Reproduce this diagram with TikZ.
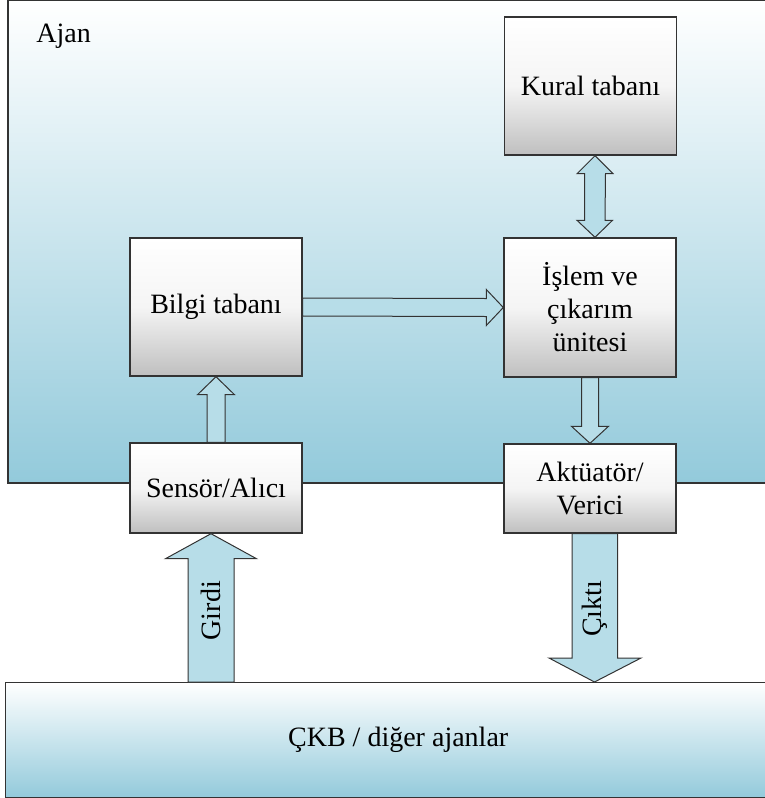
\documentclass[tikz,border=0pt]{standalone}
\usepackage{fontspec}
\setmainfont{Liberation Serif}
\usetikzlibrary{calc}

\definecolor{agentblue}{HTML}{93CADB}
\definecolor{arrowblue}{HTML}{B7DDE8}
\definecolor{edgegray}{HTML}{333333}

\tikzset{
  unit/.style={draw=edgegray, line width=0.7pt, top color=white, bottom color=black!25,
    middle color=black!4, minimum width=86pt, align=center, inner sep=2pt,
    font=\fontsize{14}{16.5}\selectfont},
  blockarrow/.style={draw=edgegray, line width=0.5pt, fill=arrowblue, line join=miter},
  arrowtext/.style={rotate=90, font=\fontsize{14}{16.5}\selectfont}
}

\begin{document}
\begin{tikzpicture}[x=0.5pt, y=-0.5pt]
  \clip (0,0) rectangle (765,798);
  % agent and environment
  \draw[draw=edgegray, line width=0.7pt, top color=white, bottom color=agentblue]
    (8,0.5) rectangle (790,483);
  \node[anchor=base west, inner sep=0pt, font=\fontsize{14}{16.5}\selectfont] (ajan) at (36,42) {Ajan};
  \node[draw=edgegray, line width=0.7pt, top color=white, bottom color=agentblue,
    minimum width=392.5pt, minimum height=57.5pt, anchor=north west,
    font=\fontsize{14}{16.5}\selectfont] (ckb) at (5,682) {ÇKB / diğer ajanlar};

  % units
  \node[unit, minimum height=69pt] (kural) at (590.5,86) {Kural tabanı};
  \node[unit, minimum height=69pt] (bilgi) at (216,307) {Bilgi tabanı};
  \node[unit, minimum height=69.5pt] (islem) at (590,307.5) {İşlem ve\\çıkarım\\ünitesi};
  \node[unit, minimum height=45pt] (sens) at (216,488) {Sensör/Alıcı};
  \node[unit, minimum height=44.5pt] (akt) at (590,488.5) {Aktüatör/\\Verici};

  % block arrows
  \draw[blockarrow] ($(kural.south)+(4.5,0)$) -- ++(18,18) -- ++(-7.5,0)
    -- ($(islem.north)+(15,-17)$) -- ++(7.5,0) -- ($(islem.north)+(5,0)$)
    -- ++(-18,-17) -- ++(7.5,0) -- ($(kural.south)+(-6,18)$) -- ++(-7.5,0) -- cycle;
  \draw[blockarrow] ($(bilgi.east)+(0,-9)$) -- ($(islem.west)+(-17,-9)$) -- ++(0,-9)
    -- (islem.west) -- ++(-17,18) -- ++(0,-9) -- ($(bilgi.east)+(0,9)$) -- cycle;
  \draw[blockarrow] ($(islem.south)+(-8.5,0)$) -- ($(akt.north)+(-8.5,-17)$) -- ++(-10,0)
    -- (akt.north) -- ++(18.5,-17) -- ++(-10,0) -- ($(islem.south)+(8.5,0)$) -- cycle;
  \draw[blockarrow] ($(sens.north)+(-9,0)$) -- ($(bilgi.south)+(-9,18)$) -- ++(-9.5,0)
    -- (bilgi.south) -- ++(18.5,18) -- ++(-9.5,0) -- ($(sens.north)+(9,0)$) -- cycle;

  % input and output
  \coordinate (gtip) at ($(sens.south)+(-5,0)$);
  \draw[blockarrow] (gtip) -- ++(45.5,25) -- ++(-22.5,0) -- ($(gtip |- ckb.north)+(23,0)$)
    -- ++(-46,0) -- ($(gtip)+(-23,25)$) -- ++(-22.5,0) -- cycle;
  \node[arrowtext] (girdi) at ($(gtip)+(0,77)$) {Girdi};

  \coordinate (ctail) at ($(akt.south)+(4.5,0)$);
  \draw[blockarrow] ($(ctail)+(-22.5,0)$) -- ($(ctail |- ckb.north)+(-22.5,-24)$) -- ++(-23,0)
    -- (ctail |- ckb.north) -- ++(46.5,-24) -- ++(-23.5,0) -- ($(ctail)+(23,0)$) -- cycle;
  \node[arrowtext] (cikti) at ($(ctail)+(0,75)$) {Çıktı};
\end{tikzpicture}
\end{document}
